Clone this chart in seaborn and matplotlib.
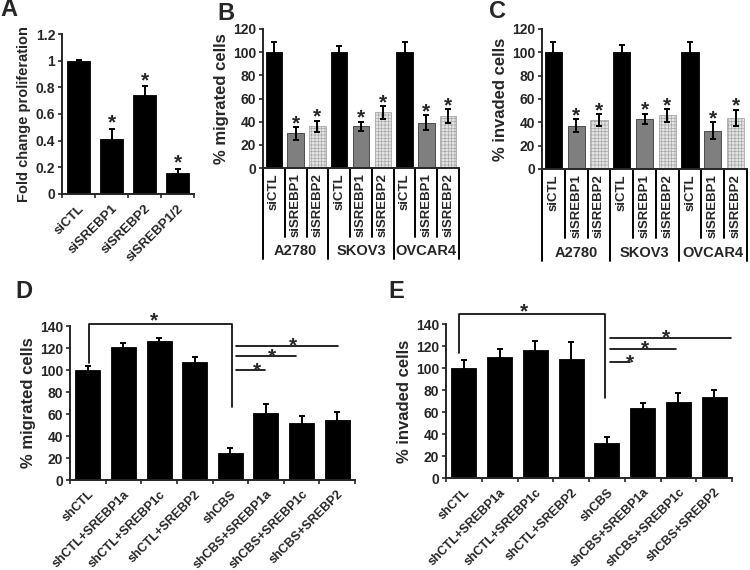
import numpy as np
import pandas as pd
import matplotlib
matplotlib.use("Agg")
import matplotlib.pyplot as plt
from matplotlib.ticker import FuncFormatter
import seaborn as sns

# ---------------------------------------------------------------
# data
# ---------------------------------------------------------------
# A - proliferation
prolif_labels = ["siCTL", "siSREBP1", "siSREBP2", "siSREBP1/2"]
prolif_vals = [1.0, 0.41, 0.74, 0.16]
prolif_err = [0.005, 0.08, 0.07, 0.03]
prolif_sig = [False, True, True, True]

# B / C - migration and invasion per cell line
cell_lines = ["A2780", "SKOV3", "OVCAR4"]
si_labels = ["siCTL", "siSREBP1", "siSREBP2"]
migr_vals = [100, 30, 36, 100, 36, 48, 100, 39, 45]
migr_err = [9, 5.5, 5, 5.5, 4, 5.5, 9, 6.5, 6]
inv_vals = [100, 37, 42, 100, 43, 46, 100, 33, 44]
inv_err = [9, 5.5, 5, 6, 4.5, 5.5, 9, 7, 7]
si_sig = [False, True, True] * 3

# D / E - shCBS rescue
sh_labels = ["shCTL", "shCTL+SREBP1a", "shCTL+SREBP1c", "shCTL+SREBP2",
             "shCBS", "shCBS+SREBP1a", "shCBS+SREBP1c", "shCBS+SREBP2"]
sh_migr_vals = [100, 121, 126, 107, 25, 61, 52, 55]
sh_migr_err = [4, 4, 3, 4.5, 4.5, 8, 6, 7]
sh_inv_vals = [100, 110, 116, 108, 32, 64, 69, 74]
sh_inv_err = [7, 7, 9, 15.5, 5.5, 4.5, 8.5, 6]

# significance brackets: (x left, x right, y left leg, y top, y right leg, star x)
migr_bracket = (0.04, 4.04, 106, 142, 66, 1.87)
inv_bracket = (-0.13, 3.96, 114, 149, 72.6, 1.69)
# significance lines from shCBS: (x start, x end, y, star x)
migr_lines = [(4.16, 4.97, 100, 4.74), (4.16, 5.84, 112.3, 5.16), (4.16, 7.03, 122, 5.75)]
inv_lines = [(4.09, 4.65, 105.6, 4.65), (4.09, 5.94, 117.7, 5.07), (4.09, 7.46, 127.7, 5.66)]

# ---------------------------------------------------------------
# style
# ---------------------------------------------------------------
sns.set_style("ticks")
plt.rcParams["font.family"] = ["Liberation Sans", "DejaVu Sans"]
plt.rcParams["font.weight"] = "bold"
plt.rcParams["axes.labelweight"] = "bold"
plt.rcParams["hatch.linewidth"] = 0.5

STAR_FS = 15
TICK_FS = 10
LABEL_FS = 12


def star(ax, x, y, dy_px=0):
    # puts the centre of the asterisk on (x, y) + dy_px pixels
    ax.annotate("*", (x, y), xytext=(0, dy_px / 1.389 - 0.58 * STAR_FS),
                textcoords="offset points", ha="center", va="baseline",
                fontsize=STAR_FS, fontweight="bold", annotation_clip=False)


def draw_bars(ax, vals, errs, colors, width):
    df = pd.DataFrame({"key": [str(i) for i in range(len(vals))], "val": vals})
    sns.barplot(data=df, x="key", y="val", hue="key", palette=colors,
                legend=False, width=width, ax=ax, saturation=1,
                edgecolor="black", linewidth=0.6)
    ax.errorbar(np.arange(len(vals)), vals, yerr=errs, fmt="none",
                ecolor="black", elinewidth=1.4, capsize=2, capthick=1.4)
    ax.set_xlabel("")
    sns.despine(ax=ax)
    for sp in ["left", "bottom"]:
        ax.spines[sp].set_linewidth(1.4)
    ax.tick_params(axis="y", labelsize=TICK_FS, width=1.2, length=3, pad=2)


fig = plt.figure(figsize=(7.5, 5.7), dpi=100)
W, H = 750, 570


def add_ax(left, right, top, bottom):
    return fig.add_axes([left / W, 1 - bottom / H, (right - left) / W, (bottom - top) / H])


# ---------------------------------------------------------------
# A
# ---------------------------------------------------------------
axA = add_ax(62, 194, 34, 194)
draw_bars(axA, prolif_vals, prolif_err, ["black"] * 4, 0.72)
axA.set_ylim(0, 1.2)
axA.set_yticks(np.arange(0, 1.21, 0.2))
axA.yaxis.set_major_formatter(FuncFormatter(lambda v, p: f"{v:g}"))
axA.set_xlim(-0.5, 3.5)
axA.set_xticks(range(4))
axA.set_xticklabels(prolif_labels, rotation=45, ha="right",
                    rotation_mode="anchor", fontsize=9.5)
axA.set_xticks(np.arange(-0.5, 4, 1), minor=True)
axA.tick_params(axis="x", which="major", length=0, pad=6)
axA.tick_params(axis="x", which="minor", length=3, width=1.2)
axA.set_ylabel("Fold change proliferation", fontsize=10.5, labelpad=3)
for i in range(4):
    if prolif_sig[i]:
        star(axA, i, prolif_vals[i] + prolif_err[i], 12)


# ---------------------------------------------------------------
# B / C
# ---------------------------------------------------------------
def cell_panel(ax, vals, errs, ylabel):
    colors = ["black", "#7f7f7f", "#e4e4e4"] * 3
    draw_bars(ax, vals, errs, colors, 0.76)
    for i, p in enumerate(ax.patches[:9]):
        if i % 3 == 1:
            p.set_edgecolor("#3a3a3a")
        if i % 3 == 2:
            p.set_edgecolor("#a8a8a8")
            p.set_hatch("+++++")
    ax.set_ylim(0, 120)
    ax.set_yticks(range(0, 121, 20))
    ax.set_xlim(-0.5, 8.5)
    ax.set_xticks(range(9))
    ax.set_xticklabels(si_labels * 3, rotation=90, fontsize=9.5)
    ax.tick_params(axis="x", length=0, pad=4)
    ax.set_ylabel(ylabel, fontsize=LABEL_FS, labelpad=3)
    tr = ax.get_xaxis_transform()
    for b in np.arange(-0.5, 9, 1):
        depth = -0.655 if b in (-0.5, 2.5, 5.5, 8.5) else -0.496
        ax.plot([b, b], [0, depth], transform=tr, clip_on=False, color="black", lw=1.4)
    for g, name in enumerate(cell_lines):
        ax.text(3 * g + 1, -0.6, name, transform=tr, ha="center", va="center",
                fontsize=10.5, fontweight="bold")
    for i in range(9):
        if si_sig[i]:
            star(ax, i, vals[i] + errs[i], 10)


axB = add_ax(263, 459, 29, 168)
cell_panel(axB, migr_vals, migr_err, "% migrated cells")
axC = add_ax(542, 747, 29, 169)
cell_panel(axC, inv_vals, inv_err, "% invaded cells")


# ---------------------------------------------------------------
# D / E
# ---------------------------------------------------------------
def rescue_panel(ax, vals, errs, ylabel, bracket, lines):
    draw_bars(ax, vals, errs, ["black"] * 8, 0.7)
    ax.set_ylim(0, 140)
    ax.set_yticks(range(0, 141, 20))
    ax.set_xlim(-0.5, 7.5)
    ax.set_xticks(range(8))
    ax.set_xticklabels(sh_labels, rotation=45, ha="right",
                       rotation_mode="anchor", fontsize=9)
    ax.set_xticks(np.arange(-0.5, 8, 1), minor=True)
    ax.tick_params(axis="x", which="major", length=0, pad=6)
    ax.tick_params(axis="x", which="minor", length=3, width=1.2)
    ax.set_ylabel(ylabel, fontsize=LABEL_FS, labelpad=3)
    x0, x1, yl, yt, yr, sx = bracket
    ax.plot([x0, x0, x1, x1], [yl, yt, yt, yr], color="black", lw=1.2, clip_on=False)
    star(ax, sx, yt, 9)
    for xa, xb, y, sx in lines:
        ax.plot([xa, xb], [y, y], color="black", lw=1.2, clip_on=False)
        star(ax, sx, y, 6)


axD = add_ax(70, 355, 326, 480)
rescue_panel(axD, sh_migr_vals, sh_migr_err, "% migrated cells", migr_bracket, migr_lines)
axE = add_ax(446, 732, 324, 478)
rescue_panel(axE, sh_inv_vals, sh_inv_err, "% invaded cells", inv_bracket, inv_lines)

# panel letters
for lab, x, y in [("A", 9, 10), ("B", 226, 13), ("C", 498, 12), ("D", 24, 291), ("E", 396, 291)]:
    fig.text(x / W, 1 - y / H, lab, fontsize=17, fontweight="bold", ha="center", va="center")

fig.savefig("out.png", dpi=100)
